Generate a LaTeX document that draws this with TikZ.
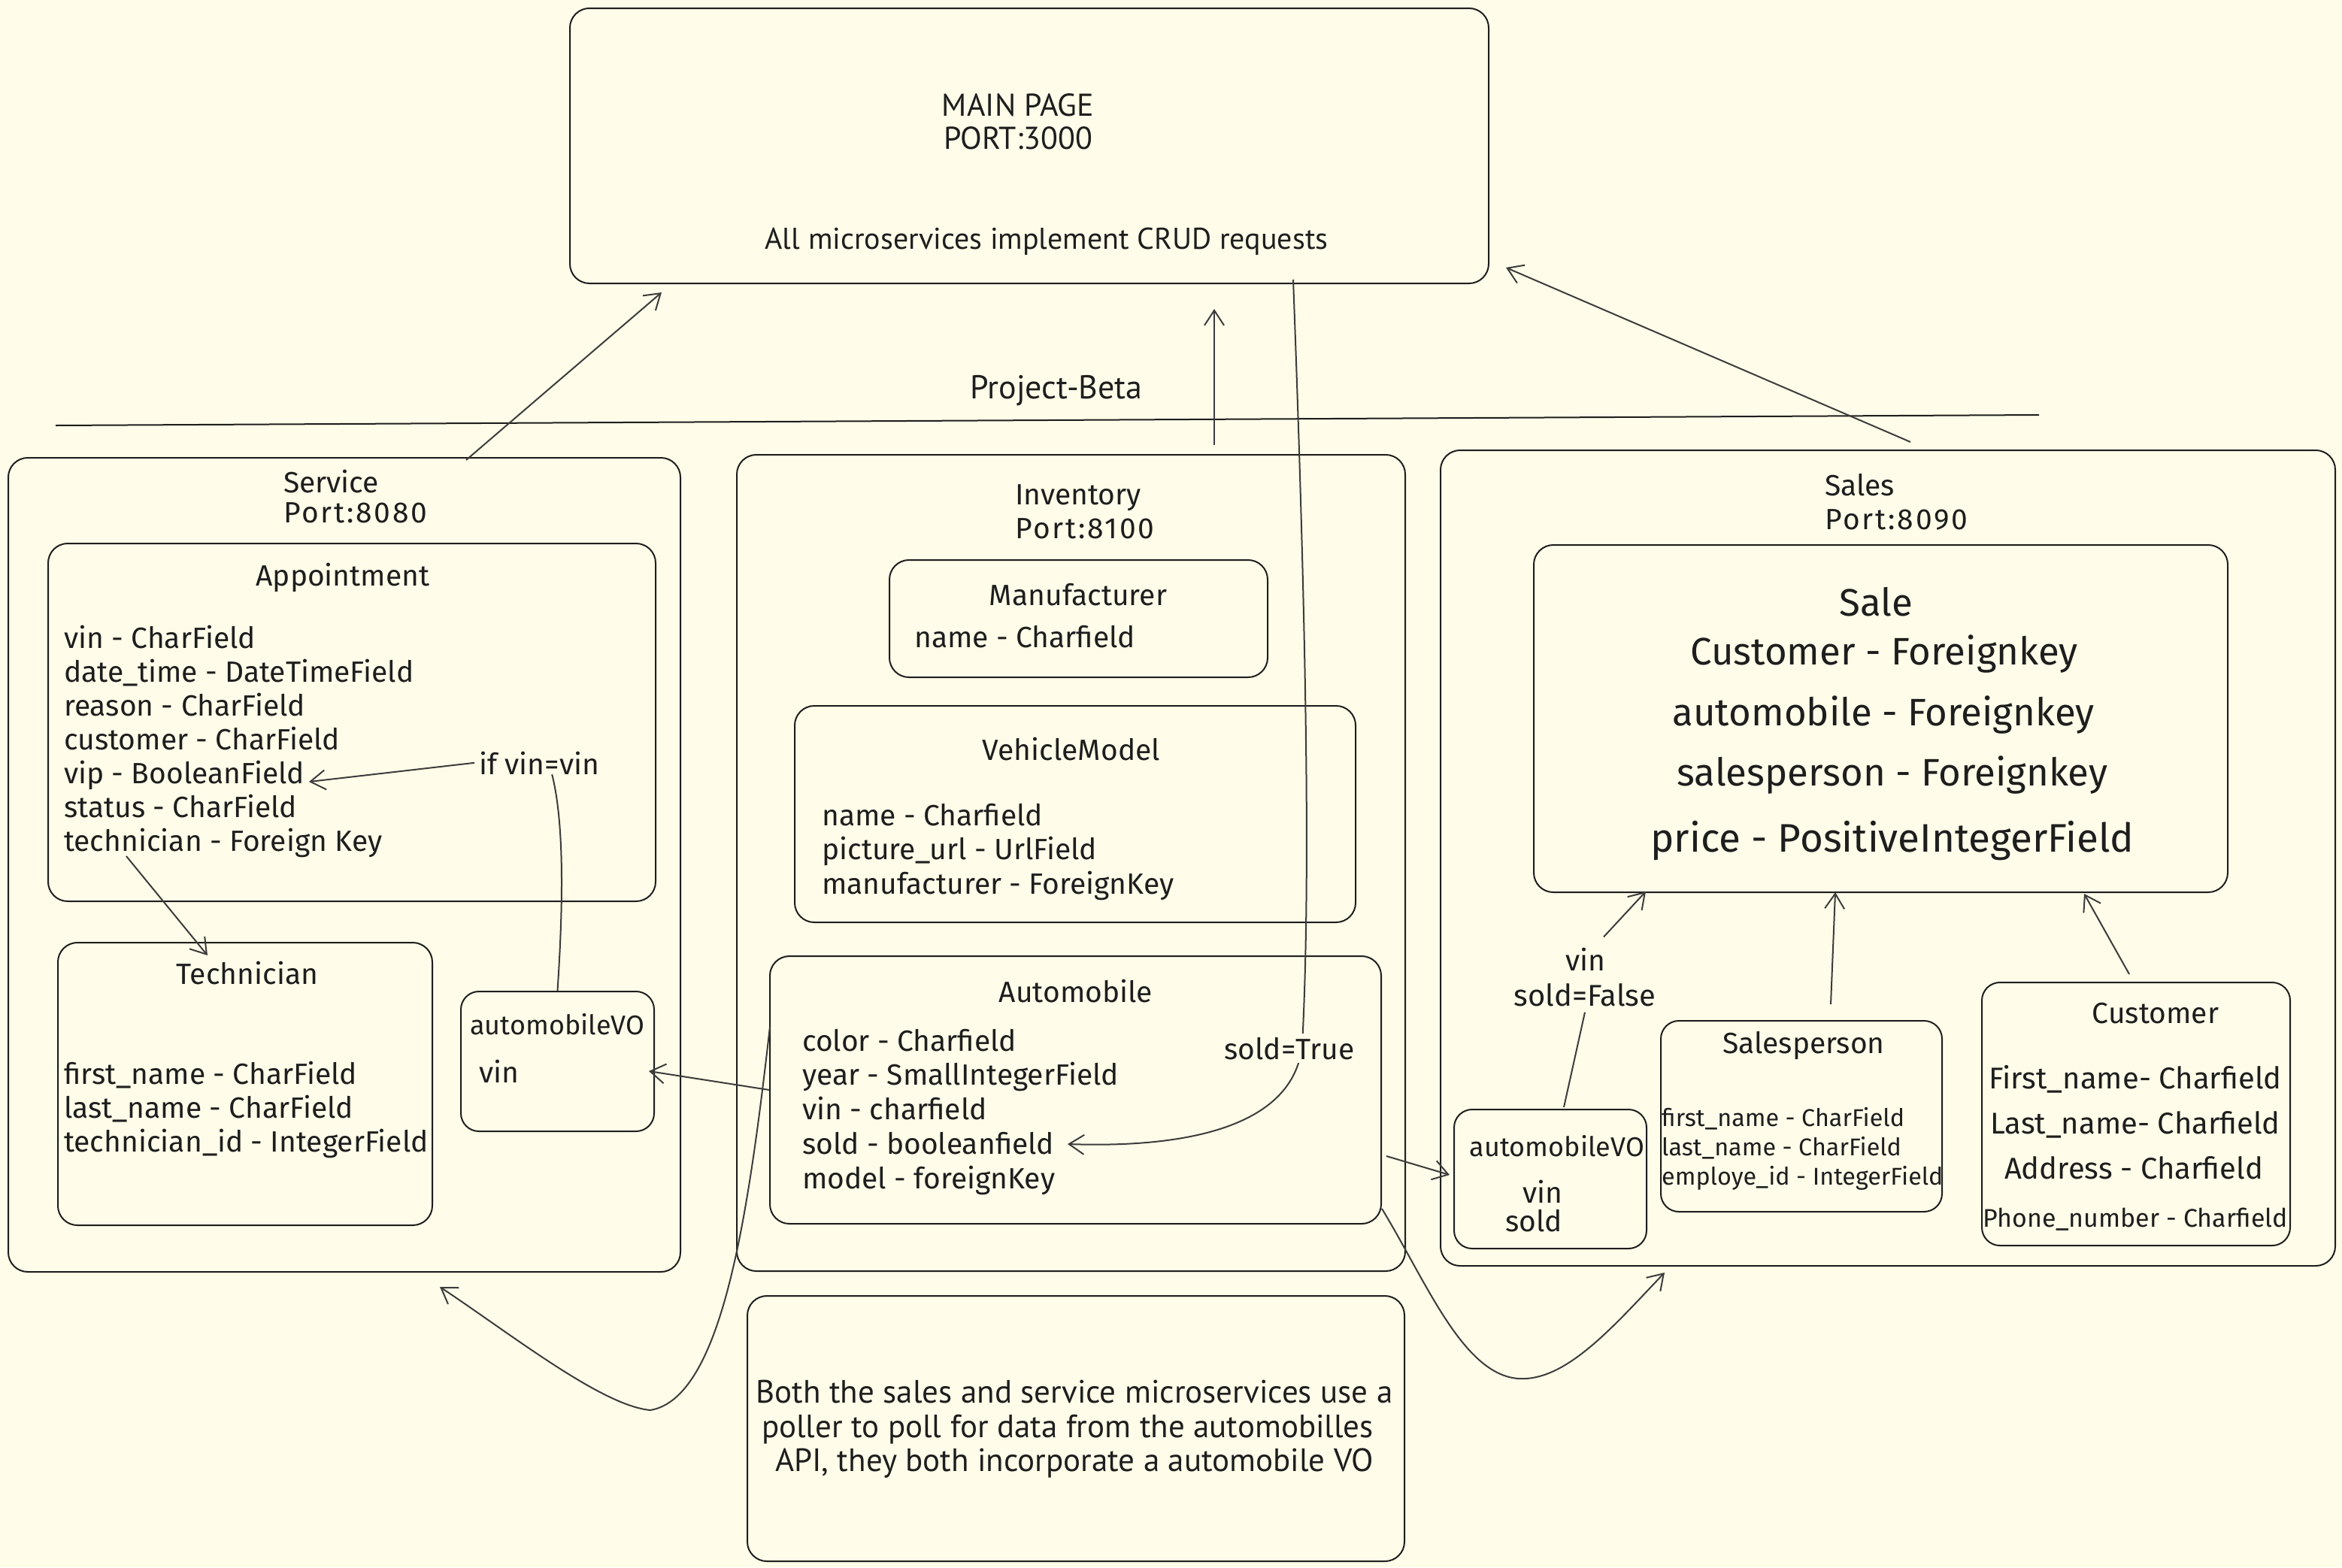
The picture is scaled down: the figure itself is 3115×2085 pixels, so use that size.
\documentclass[tikz,border=0pt]{standalone}
\usepackage{fontspec}
\setmainfont{Fira Sans}
\newfontfamily\handfont{PT Sans}
\usetikzlibrary{arrows.meta}
\definecolor{paper}{HTML}{FFFDE9}
\definecolor{ink}{HTML}{1E1E1E}
\definecolor{wire}{HTML}{3C3C3C}
\newcommand\fsz[2]{\fontsize{#1}{#2}\selectfont}
\newcommand\wide{\addfontfeature{LetterSpace=7}}

\begin{document}
\begin{tikzpicture}[x=1pt,y=-1pt,
  box/.style={draw=ink, line width=2pt, rounded corners=26pt, anchor=north west, inner sep=0pt},
  txt/.style={inner sep=0pt, text=ink, font=\fsz{39}{45}},
  small/.style={inner sep=0pt, text=ink, font=\fsz{32.3}{39}},
  big/.style={inner sep=0pt, text=ink, font=\fsz{51}{60}},
  hand/.style={inner sep=0pt, text=ink, font=\handfont\fsz{42}{46}},
  link/.style={draw=wire, line width=2pt},
  arr/.style={link, -{Straight Barb[length=20pt,width=26pt,line width=2pt]}}
]
% canvas
\fill[paper] (0,0) rectangle (3115,2085);
\useasboundingbox (0,0) rectangle (3115,2085);

% ---------- main page ----------
\node[box, minimum width=1222pt, minimum height=366pt] (main) at (757,10) {};
\node[hand, anchor=base] (mainT1) at (1354,154) {MAIN PAGE};
\node[hand, anchor=base] (mainT2) at (1354,198) {PORT:3000};
\node[hand, anchor=base, font=\handfont\fsz{40}{46}] (crud) at (1392,331) {All microservices implement CRUD requests};

\node[hand, anchor=base, font=\handfont\fsz{44}{46}] (beta) at (1405,530) {Project-Beta};
\coordinate (ruleL) at (74,566);
\coordinate (ruleR) at (2712,552);
\draw[ink, line width=2pt] (ruleL) -- (ruleR);

% ---------- service ----------
\node[box, minimum width=894pt, minimum height=1083pt] (service) at (10,608) {};
\node[txt, anchor=base west] (serviceT1) at (377,655) {Service};
\node[txt, anchor=base west] (serviceT2) at (377,695) {\wide Port:8080};

\node[box, minimum width=808pt, minimum height=476pt] (appt) at (63,722) {};
\node[txt, anchor=base] (apptT) at (456,779) {Appointment};
\foreach \f [count=\i from 0] in {vin - CharField, date\_time - DateTimeField, reason - CharField,
  customer - CharField, vip - BooleanField, status - CharField, technician - Foreign Key}
  \node[txt, anchor=base west] (apptF\i) at (85,{862+45*\i}) {\f};
\node[txt, anchor=base west] (ifvin) at (637,1030) {if vin=vin};

\node[box, minimum width=498pt, minimum height=376pt] (tech) at (76,1253) {};
\node[txt, anchor=base] (techT) at (329,1309) {Technician};
\foreach \f [count=\i from 0] in {first\_name - CharField, last\_name - CharField, technician\_id - IntegerField}
  \node[txt, anchor=base west] (techF\i) at (85,{1442+45*\i}) {\f};

\node[box, rounded corners=24pt, minimum width=257pt, minimum height=186pt] (svo) at (612,1318) {};
\node[txt, anchor=base west, font=\fsz{36}{45}] (svoT) at (625,1376) {automobileVO};
\node[txt, anchor=base west] (svoF) at (637,1440) {vin};

% ---------- inventory ----------
\node[box, minimum width=889pt, minimum height=1086pt] (inv) at (979,604) {};
\node[txt, anchor=base west] (invT1) at (1350,671) {Inventory};
\node[txt, anchor=base west] (invT2) at (1350,716) {\wide Port:8100};

\node[box, minimum width=503pt, minimum height=156pt] (manu) at (1182,744) {};
\node[txt, anchor=base] (manuT) at (1434,805) {Manufacturer};
\node[txt, anchor=base west] (manuF) at (1216,861) {name - Charfield};

\node[box, minimum width=746pt, minimum height=288pt] (vmod) at (1056,938) {};
\node[txt, anchor=base] (vmodT) at (1425,1011) {VehicleModel};
\foreach \f [count=\i from 0] in {name - Charfield, picture\_url - UrlField, manufacturer - ForeignKey}
  \node[txt, anchor=base west] (vmodF\i) at (1093,{1098+45.5*\i}) {\f};

\node[box, minimum width=813pt, minimum height=356pt] (auto) at (1023,1271) {};
\node[txt, anchor=base] (autoT) at (1431,1333) {Automobile};
\foreach \f [count=\i from 0] in {color - Charfield, year - SmallIntegerField, vin - charfield,
  sold - booleanfield, model - foreignKey}
  \node[txt, anchor=base west] (autoF\i) at (1067,{1398+45.8*\i}) {\f};

% ---------- sales ----------
\node[box, minimum width=1190pt, minimum height=1085pt] (sales) at (1915,598) {};
\node[txt, anchor=base west] (salesT1) at (2427,659) {Sales};
\node[txt, anchor=base west] (salesT2) at (2427,704) {\wide Port:8090};

\node[box, minimum width=923pt, minimum height=462pt] (sale) at (2039,724) {};
\node[big, anchor=base] (saleT) at (2495,819) {Sale};
\node[big, anchor=base] (saleF0) at (2506,884) {Customer - Foreignkey};
\node[big, anchor=base] (saleF1) at (2505,965) {automobile - Foreignkey};
\node[big, anchor=base] (saleF2) at (2517,1045) {salesperson - Foreignkey};
\node[big, anchor=base, font=\fsz{53}{60}] (saleF3) at (2517,1133) {price - PositiveIntegerField};

\node[box, rounded corners=24pt, minimum width=256pt, minimum height=185pt] (avo) at (1933,1475) {};
\node[txt, anchor=base, font=\fsz{36}{45}] (avoT) at (2071,1538) {automobileVO};
\node[txt, anchor=base] (avoF0) at (2052,1600) {vin};
\node[txt, anchor=base, font=\fsz{39}{50}] (avoF1) at (2040,1638) {sold};

\node[txt, anchor=base] (vinlbl) at (2109,1291) {vin};
\node[txt, anchor=base, font=\fsz{40}{46}] (unsold) at (2108,1338) {sold=False};

\node[box, rounded corners=24pt, minimum width=374pt, minimum height=254pt] (sp) at (2208,1357) {};
\node[txt, anchor=base] (spT) at (2399,1401) {Salesperson};
\foreach \f [count=\i from 0] in {first\_name - CharField, last\_name - CharField, employe\_id - IntegerField}
  \node[small, anchor=base west] (spF\i) at (2210,{1498+39*\i}) {\f};

\node[box, rounded corners=24pt, minimum width=410pt, minimum height=350pt] (cust) at (2635,1306) {};
\node[txt, anchor=base] (custT) at (2867,1361) {Customer};
\node[txt, anchor=base, font=\fsz{40}{45}] (custF0) at (2840,1448) {First\_name- Charfield};
\node[txt, anchor=base, font=\fsz{40}{45}] (custF1) at (2840,1508) {Last\_name- Charfield};
\node[txt, anchor=base, font=\fsz{40}{45}] (custF2) at (2838,1568) {Address - Charfield};
\node[small, anchor=base, font=\fsz{34}{39}] (custF3) at (2840,1632) {Phone\_number - Charfield};

% ---------- note ----------
\node[box, minimum width=874pt, minimum height=353pt] (note) at (993,1723) {};
\node[hand, anchor=base, font=\handfont\fsz{43}{46}] (noteL0) at (1429,1866) {Both the sales and service microservices use a};
\node[hand, anchor=base, font=\handfont\fsz{43}{46}] (noteL1) at (1420,1912) {poller to poll for data from the automobilles};
\node[hand, anchor=base, font=\handfont\fsz{43}{46}] (noteL2) at (1429,1957) {API, they both incorporate a automobile VO};

% ---------- connector ends ----------
\coordinate (servTop) at (620,612);
\coordinate (mainSW) at (880,389);
\coordinate (invTop) at (1615,592);
\coordinate (mainS) at (1615,411);
\coordinate (salesTop) at (2541,588);
\coordinate (mainSE) at (2003,356);
\coordinate (mainSold) at (1720,372);
\coordinate (soldTip) at (1420,1522);
\coordinate (fkFrom) at (168,1139);
\coordinate (fkTip) at (276,1271);
\coordinate (vipTip) at (411,1040);
\coordinate (svoTip) at (863,1425);
\coordinate (autoRight) at (1844,1538);
\coordinate (avoTip) at (1928,1563);
\coordinate (autoLeft) at (1024,1366);
\coordinate (servBottom) at (585,1712);
\coordinate (autoCorner) at (1838,1608);
\coordinate (salesBottom) at (2214,1693);
\coordinate (avoTop) at (2080,1473);
\coordinate (saleTipA) at (2189,1186);
\coordinate (spTop) at (2435,1336);
\coordinate (saleTipB) at (2441,1187);
\coordinate (custTop) at (2832,1296);
\coordinate (saleTipC) at (2772,1189);

% ---------- connectors ----------
\draw[arr] (servTop) -- (mainSW);
\draw[arr] (invTop) -- (mainS);
\draw[arr] (salesTop) -- (mainSE);

\draw[arr] (mainSold) .. controls (1740,900) and (1742,1200) .. (1732,1390)
  .. controls (1722,1490) and (1600,1528) .. (soldTip);
\node[txt, anchor=base, fill=paper, inner sep=5pt] (soldlbl) at (1715,1409) {sold=True};

\draw[arr] (fkFrom) -- (fkTip);
\draw[link] (svo.north) .. controls (748,1220) and (752,1100) .. ([xshift=17pt]ifvin.south);
\draw[arr] ([xshift=-6pt]ifvin.west) -- (vipTip);

\draw[arr] (auto.west) -- (svoTip);
\draw[arr] (autoRight) -- (avoTip);

\draw[arr] (autoLeft) .. controls (995,1620) and (960,1860) .. (865,1876)
  .. controls (800,1870) and (680,1775) .. (servBottom);
\draw[arr] (autoCorner) .. controls (1900,1710) and (1950,1840) .. (2030,1834)
  .. controls (2090,1830) and (2150,1760) .. (salesBottom);

\draw[link] (avoTop) -- ([yshift=-8pt]unsold.south);
\draw[arr] ([xshift=24pt,yshift=14pt]vinlbl.north) -- (saleTipA);
\draw[arr] (spTop) -- (saleTipB);
\draw[arr] (custTop) -- (saleTipC);
\end{tikzpicture}
\end{document}
